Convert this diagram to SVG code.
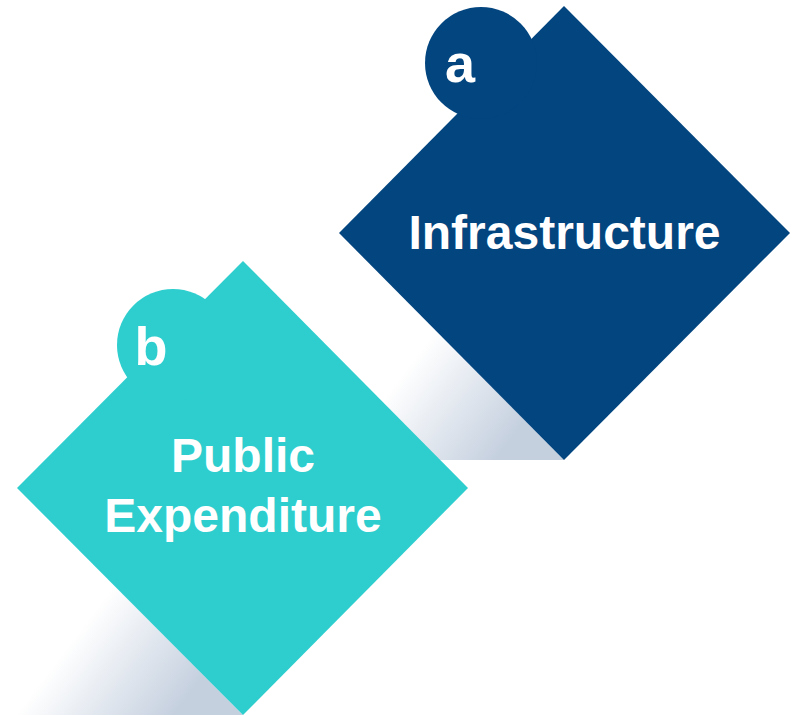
<svg xmlns="http://www.w3.org/2000/svg" width="794" height="716" viewBox="0 0 794 716">
  <style>
    .label { font-family: "Liberation Sans", Arial, sans-serif; font-weight: bold; fill: #ffffff; text-anchor: middle; }
    .title { font-size: 48px; }
    .badge { font-size: 54px; }
    .navy { fill: #03457f; }
    .teal { fill: #2ecece; }
  </style>
  <defs>
    <!-- soft drop shadow fading toward the upper-left -->
    <linearGradient id="shadowA" gradientUnits="userSpaceOnUse" x1="392" y1="388" x2="492" y2="464">
      <stop offset="0" stop-color="#c5d0df" stop-opacity="0"/>
      <stop offset="1" stop-color="#c5d0df" stop-opacity="1"/>
    </linearGradient>
    <linearGradient id="shadowB" gradientUnits="userSpaceOnUse" x1="71" y1="642" x2="171" y2="718">
      <stop offset="0" stop-color="#c5d0df" stop-opacity="0"/>
      <stop offset="1" stop-color="#c5d0df" stop-opacity="1"/>
    </linearGradient>
  </defs>

  <g id="node-a">
    <polygon points="564,460 340,233 250,233 250,460" fill="url(#shadowA)"/>
    <polygon class="navy" points="564,6 790,233 564,460 339,233"/>
    <circle class="navy" cx="481" cy="63" r="56"/>
    <text class="label badge" x="460" y="82">a</text>
    <text class="label title" x="564.5" y="249">Infrastructure</text>
  </g>

  <g id="node-b">
    <polygon points="243,715 18,488 -60,488 -60,715" fill="url(#shadowB)"/>
    <polygon class="teal" points="243,261 468,488 243,715 17,488"/>
    <circle class="teal" cx="173" cy="345" r="56"/>
    <text class="label badge" x="151" y="365">b</text>
    <text class="label title" x="243" y="472">Public</text>
    <text class="label title" x="243" y="532">Expenditure</text>
  </g>

  <g id="connectors"/>
</svg>
